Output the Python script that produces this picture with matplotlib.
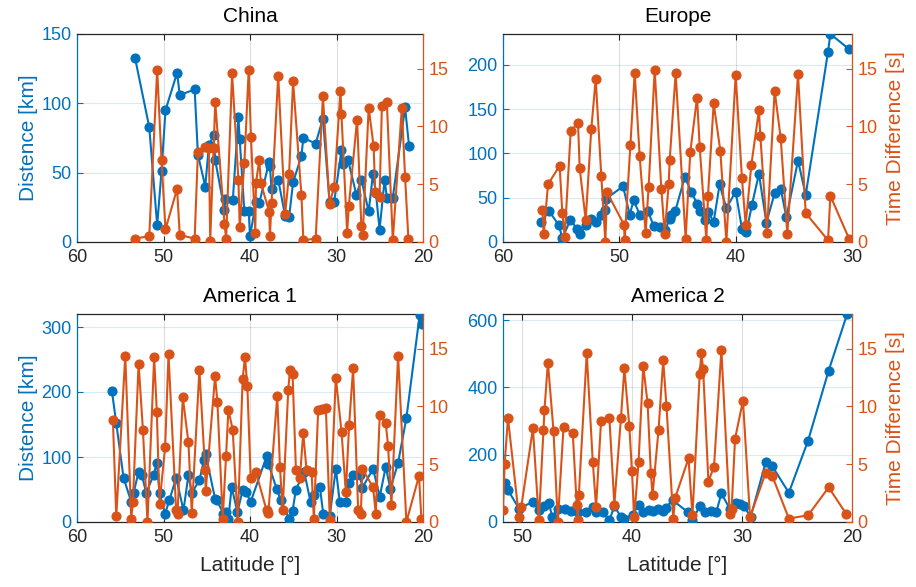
import numpy as np
import matplotlib
matplotlib.use("Agg")
import matplotlib.pyplot as plt

plt.rcParams['font.family'] = ['Liberation Sans', 'DejaVu Sans']

BLUE = '#0072BD'
ORANGE = '#D95319'
DARK = '#262626'

# ---- China ----
cn_lat_d = [53.3, 51.65, 50.73, 50.23, 49.77, 48.43, 48.12, 46.4, 46.02, 45.17, 44.75, 44.21, 44.02,
            42.95, 42.87, 41.99, 41.34, 41.19, 40.65, 40.15, 40.0, 39.31, 38.93, 37.78, 37.7, 37.51,
            36.74, 35.94, 35.48, 35.02, 34.06, 33.83, 32.41, 31.57, 30.8, 30.27, 29.43, 29.27, 28.66,
            27.7, 27.13, 26.28, 25.79, 25.44, 25.02, 24.44, 24.18, 23.49, 22.07, 21.61]
cn_dist = [133, 83, 12, 51, 95, 122, 106, 110, 63, 40, 70, 77, 59,
           23, 31, 30, 90, 74, 22, 22, 4, 29, 28, 58, 55, 38,
           45, 19, 18, 43, 62, 75, 71, 89, 29, 29, 66, 56, 59,
           34, 45, 22, 49, 35, 9, 45, 32, 32, 97, 69]
cn_lat_t = [53.3, 51.65, 50.73, 50.23, 49.77, 48.43, 48.12, 46.4, 46.02, 45.17, 44.75, 44.6, 44.21,
            44.02, 42.95, 42.76, 42.07, 41.34, 41.19, 40.65, 40.15, 39.89, 39.39, 39.31, 38.93, 38.74,
            37.78, 37.7, 37.51, 36.74, 35.94, 35.48, 35.02, 34.06, 33.83, 32.41, 31.57, 30.8, 30.27,
            29.54, 29.43, 28.77, 28.58, 27.62, 27.13, 26.97, 26.28, 25.71, 25.52, 25.02, 24.75, 24.18,
            23.49, 22.45, 22.07, 21.69]
cn_tdiff = [0.3, 0.5, 14.9, 7.1, 1.1, 4.6, 0.6, 0.3, 7.8, 8.2, 8.1, 0.1, 8.1,
            12.1, 1.6, 0.3, 14.6, 5.4, 1.3, 6.85, 14.9, 9.1, 0.8, 5.1, 7.1, 5.1,
            2.6, 0.5, 3.4, 14.4, 2.4, 5.9, 13.9, 4.1, 0.15, 0.3, 12.6, 3.3, 4.8,
            13.1, 11.1, 0.8, 3.1, 10.6, 1.4, 0.6, 11.6, 8.3, 4.3, 3.9, 11.8, 12.1,
            0.15, 11.6, 5.6, 0.3]

# ---- Europe ----
eu_lat_d = [56.7, 56.05, 55.19, 54.9, 54.21, 53.64, 53.35, 52.84, 52.41, 52.03, 51.55, 51.2, 51.12,
            49.68, 49.11, 48.77, 48.25, 47.54, 47.05, 46.53, 46.05, 45.67, 45.53, 45.19, 44.38, 43.81,
            43.32, 43.09, 42.66, 42.38, 41.89, 41.38, 40.8, 40.0, 39.46, 39.08, 38.6, 38.0, 37.36,
            36.65, 36.13, 35.64, 34.64, 33.98, 32.06, 31.86, 30.26]
eu_dist = [23, 35, 19, 4, 25, 15, 9, 19, 26, 23, 30, 36, 49,
           63, 31, 47, 31, 35, 18, 17, 14, 26, 30, 35, 73, 57,
           43, 35, 25, 34, 23, 65, 38, 57, 15, 11, 42, 77, 22,
           55, 60, 28, 92, 53, 215, 235, 218]
eu_lat_t = [56.62, 56.5, 56.13, 55.13, 54.9, 54.7, 54.18, 53.55, 53.41, 52.89, 52.41, 52.03, 51.55,
            51.2, 51.06, 49.6, 49.54, 49.05, 48.68, 48.25, 47.74, 47.48, 46.96, 46.39, 46.1, 45.76,
            45.67, 45.16, 44.3, 43.9, 43.32, 43.09, 42.52, 42.38, 41.89, 41.32, 40.8, 40.0, 39.46,
            39.14, 38.65, 38.0, 37.88, 37.31, 36.65, 36.13, 35.56, 34.64, 33.98, 32.06, 31.86, 30.26]
eu_tdiff = [2.8, 0.66, 5.0, 6.6, 2.5, 0.43, 9.6, 10.3, 6.4, 1.9, 9.8, 14.1, 5.7,
            0.0, 4.3, 1.5, 0.15, 8.4, 14.65, 7.4, 0.8, 4.8, 14.9, 4.6, 0.72, 5.0,
            7.1, 14.6, 0.3, 7.8, 12.5, 8.2, 0.15, 4.0, 12.0, 7.9, 0.0, 14.45, 5.5,
            1.5, 6.7, 11.4, 9.2, 0.8, 13.1, 9.0, 0.72, 14.5, 2.5, 0.15, 4.0, 0.3]

# ---- America 1 ----
am1_lat_d = [55.96, 55.46, 54.62, 53.73, 53.46, 52.88, 52.5, 52.0, 51.15, 50.77, 50.46, 49.81, 49.31,
             48.54, 47.69, 47.12, 46.73, 45.85, 45.31, 45.12, 44.04, 43.85, 43.08, 42.77, 42.5, 42.12,
             41.46, 40.85, 40.46, 39.92, 38.08, 37.88, 36.92, 36.46, 35.46, 35.08, 34.69, 33.73, 33.0,
             32.62, 31.92, 31.54, 30.77, 30.08, 29.62, 28.92, 28.54, 28.08, 27.31, 27.0, 25.77, 25.0,
             24.31, 23.77, 22.88, 21.92, 20.38, 20.08]
am1_dist = [201, 152, 68, 31, 45, 77, 72, 45, 72, 91, 44, 13, 34,
            68, 18, 72, 45, 64, 96, 104, 36, 34, 13, 15, 5, 54,
            15, 49, 46, 31, 101, 90, 51, 34, 5, 17, 50, 77, 31,
            41, 54, 13, 10, 82, 31, 31, 60, 72, 72, 53, 82, 39,
            85, 51, 91, 160, 319, 305]
am1_lat_t = [55.85, 55.46, 54.42, 53.73, 53.54, 52.88, 52.38, 51.85, 51.08, 50.77, 50.46, 49.81, 49.42,
             48.54, 48.38, 47.77, 47.12, 46.73, 45.85, 45.19, 45.12, 44.04, 43.77, 43.15, 42.77, 42.5,
             42.0, 41.42, 40.85, 40.58, 40.31, 39.92, 39.31, 38.08, 37.88, 36.85, 36.54, 36.23, 35.58,
             35.38, 35.08, 34.69, 34.23, 33.85, 33.46, 32.88, 32.62, 32.12, 31.62, 31.23, 30.77, 30.08,
             29.42, 28.92, 28.54, 28.08, 27.5, 27.19, 27.0, 25.77, 25.46, 25.0, 24.31, 24.04, 23.65,
             22.88, 21.92, 20.46, 20.19]
am1_tdiff = [8.8, 0.5, 14.4, 0.3, 1.7, 13.7, 8.0, 0.0, 14.25, 9.5, 1.6, 6.5, 14.5,
             1.0, 0.7, 10.8, 6.9, 0.8, 13.15, 4.5, 2.7, 12.6, 10.4, 0.3, 5.7, 9.7,
             8.0, 0.0, 12.4, 14.25, 11.8, 3.8, 4.3, 1.0, 0.8, 10.9, 4.8, 1.0, 11.4,
             13.15, 12.8, 4.5, 3.8, 7.7, 4.5, 4.3, 0.3, 9.7, 9.8, 9.9, 0.15, 12.5,
             7.8, 2.6, 8.4, 13.3, 1.07, 0.72, 4.6, 3.0, 0.72, 9.25, 8.6, 6.6, 1.5,
             14.4, 0.0, 4.0, 0.3]

# ---- America 2 ----
am2_lat_d = [51.57, 51.27, 50.27, 49.0, 48.46, 47.95, 47.55, 47.25, 46.74, 46.13, 45.53, 44.92, 44.17,
             43.56, 43.26, 42.66, 42.05, 41.6, 41.0, 40.69, 39.94, 39.4, 38.97, 38.49, 38.13, 37.67,
             37.22, 36.92, 36.31, 34.95, 34.5, 33.84, 33.35, 32.84, 32.33, 31.87, 31.12, 30.57, 30.21,
             29.82, 29.21, 27.85, 27.25, 25.74, 23.99, 22.12, 20.45]
am2_dist = [116, 95, 40, 60, 35, 47, 57, 15, 40, 40, 33, 30, 30,
            45, 30, 30, 5, 47, 15, 10, 22, 50, 30, 37, 33, 40,
            33, 43, 65, 30, 5, 47, 30, 33, 30, 85, 40, 55, 53,
            47, 15, 177, 166, 87, 242, 450, 617]
am2_lat_t = [51.72, 51.57, 51.27, 50.27, 50.06, 49.0, 48.46, 48.04, 47.95, 47.64, 47.13, 46.74, 46.22,
             45.38, 45.02, 44.92, 44.83, 44.11, 43.56, 43.26, 42.81, 42.05, 41.6, 41.0, 40.69, 40.24,
             40.0, 39.79, 39.4, 38.97, 38.58, 38.28, 38.13, 37.58, 37.16, 36.86, 36.25, 36.07, 34.86,
             34.5, 33.84, 33.69, 33.53, 33.05, 32.54, 31.87, 31.12, 30.94, 30.63, 29.91, 29.27, 27.85,
             27.25, 25.74, 23.99, 22.12, 20.54]
am2_tdiff = [1.07, 5.0, 9.0, 0.43, 1.3, 8.1, 0.15, 8.0, 9.7, 13.8, 7.9, 0.0, 8.2,
             7.7, 1.5, 0.15, 2.3, 14.6, 5.2, 1.3, 8.7, 9.0, 1.5, 9.0, 13.3, 8.3,
             4.4, 0.43, 5.2, 13.5, 10.3, 4.2, 2.3, 8.0, 14.0, 10.0, 0.3, 2.1, 5.5,
             0.58, 12.8, 14.6, 13.2, 3.5, 4.8, 14.9, 0.72, 1.16, 7.2, 10.5, 0.43, 4.25,
             4.0, 0.3, 0.58, 3.0, 0.72]


def draw_panel(rect, title, lat_d, dist, lat_t, tdiff, xlim, xticks, ylim_d, yticks_d,
               left_label, right_label, bottom_label):
    ax = fig.add_axes(rect)
    ax.plot(lat_d, dist, '-o', color=BLUE, lw=1.5, ms=6.3, zorder=3)
    ax.set_xlim(xlim)
    ax.set_ylim(ylim_d)
    ax.set_xticks(xticks)
    ax.set_yticks(yticks_d)
    ax.xaxis.grid(True, color=DARK, alpha=0.15, lw=0.8)
    ax.yaxis.grid(True, color=BLUE, alpha=0.15, lw=0.8)
    ax.set_axisbelow(True)
    ax.tick_params(axis='x', direction='in', top=True, length=4, colors=DARK, labelsize=13, pad=5)
    ax.tick_params(axis='y', direction='in', length=4, colors=BLUE, labelsize=13, pad=4)
    ax.spines['left'].set_color(BLUE)
    ax.spines['top'].set_color(DARK)
    ax.spines['bottom'].set_color(DARK)
    ax.spines['right'].set_visible(False)
    for s in ax.spines.values():
        s.set_linewidth(0.9)
    ax.set_title(title, fontsize=15, color='#000000', pad=9)
    if left_label:
        ax.set_ylabel('Distence [km]', color=BLUE, fontsize=15, labelpad=2)
    if bottom_label:
        ax.set_xlabel('Latitude [°]', color=DARK, fontsize=15, labelpad=7)

    ax2 = ax.twinx()
    ax2.plot(lat_t, tdiff, '-o', color=ORANGE, lw=1.5, ms=6.3)
    ax2.set_ylim(0, 18)
    ax2.set_yticks([0, 5, 10, 15])
    ax2.tick_params(axis='y', direction='in', length=4, colors=ORANGE, labelsize=13, pad=4)
    ax2.spines['right'].set_color(ORANGE)
    ax2.spines['right'].set_linewidth(0.9)
    for k in ['left', 'top', 'bottom']:
        ax2.spines[k].set_visible(False)
    if right_label:
        ax2.set_ylabel('Time Difference [s]', color=ORANGE, fontsize=15, labelpad=6)
    return ax, ax2


fig = plt.figure(figsize=(9.16, 5.87), dpi=100)
W, H = 916.0, 587.0


def rect(l, r, t, b):
    return [l / W, 1 - b / H, (r - l) / W, (b - t) / H]


draw_panel(rect(77, 423, 34, 242), 'China', cn_lat_d, cn_dist, cn_lat_t, cn_tdiff,
           (60, 20), [60, 50, 40, 30, 20], (0, 150), [0, 50, 100, 150], True, False, False)
draw_panel(rect(503, 852, 34, 242), 'Europe', eu_lat_d, eu_dist, eu_lat_t, eu_tdiff,
           (60, 30), [60, 50, 40, 30], (0, 235), [0, 50, 100, 150, 200], False, True, False)
draw_panel(rect(77, 423, 314, 522), 'America 1', am1_lat_d, am1_dist, am1_lat_t, am1_tdiff,
           (60, 20), [60, 50, 40, 30, 20], (0, 320), [0, 100, 200, 300], True, False, True)
draw_panel(rect(503, 852, 314, 522), 'America 2', am2_lat_d, am2_dist, am2_lat_t, am2_tdiff,
           (51.72, 20), [50, 40, 30, 20], (0, 618), [0, 200, 400, 600], False, True, True)

fig.savefig('out.png', dpi=100)
